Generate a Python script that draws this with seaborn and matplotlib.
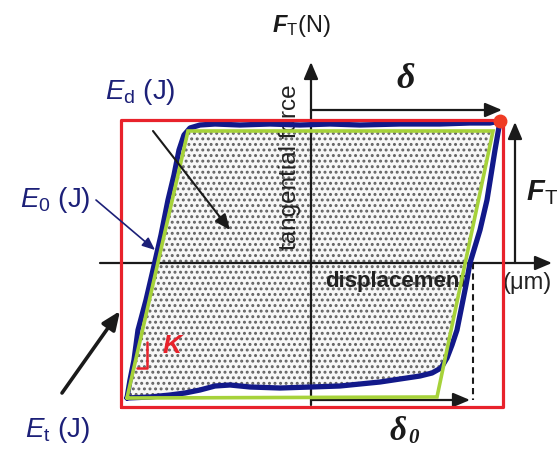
import numpy as np
import pandas as pd
import seaborn as sns
import matplotlib
matplotlib.use("Agg")
import matplotlib.pyplot as plt
from matplotlib.patches import Polygon, FancyArrowPatch

# ---- data (displacement, tangential force), schematic units ----
loop_disp = [-184, -181, -177, -173, -165, -158, -150, -143, -137, -132, -127, -121, -111, -96,
             -71, -41, -11, 19, 49, 89, 129, 159, 179, 189,
             188, 184, 180, 176, 169, 159, 155, 151, 146, 141, 136, 130, 121, 109, 89, 69, 49, 29,
             0, -31, -61, -81, -96, -111, -126, -141, -161, -184]
loop_force = [-135, -117, -97, -67, -37, -7, 28, 63, 88, 113, 128, 135, 138, 139,
              138, 139, 138, 139, 138, 139, 139, 140, 140, 142,
              136, 113, 88, 63, 33, 0, -22, -42, -67, -82, -95, -105, -110, -113, -116, -119, -121, -123,
              -124, -125, -124, -122, -123, -127, -130, -132, -134, -135]
fit_disp = [-184, -123, 182, 126, -184]
fit_force = [-135, 132, 132, -134, -135]
box_disp = [-190, 192]
box_force = [-144, 143]
peak_disp = [189]
peak_force = [142]
delta0_disp = 159      # end of slip amplitude arrow
dashed_disp = 162

sns.set_theme(style="white")
plt.rcParams["font.family"] = ["Liberation Sans", "DejaVu Sans"]
plt.rcParams["mathtext.fontset"] = "custom"
plt.rcParams["mathtext.it"] = "Liberation Sans:italic"
plt.rcParams["mathtext.rm"] = "Liberation Sans"
plt.rcParams["mathtext.bf"] = "Liberation Sans:bold:italic"
plt.rcParams["hatch.linewidth"] = 1.35

NAVY = "#12198a"
TXT_BLUE = "#1c2078"
GREEN = "#a6d23a"
RED = "#e8222b"

fig = plt.figure(figsize=(5.57, 4.5), dpi=100)
ax = fig.add_axes([0, 0, 1, 1])
ax.set_xlim(-311, 246)
ax.set_ylim(-187, 263)
ax.axis("off")

# stippled energy area: fitted parallelogram clipped by the measured loop
stip = Polygon(np.column_stack([fit_disp, fit_force]), closed=True, facecolor="#f7f7f7",
               edgecolor="#626262", lw=0, hatch="...", zorder=1)
ax.add_patch(stip)
clip = Polygon(np.column_stack([loop_disp, loop_force]), closed=True, transform=ax.transData)
stip.set_clip_path(clip)

# axis labels inside the plot
ax.text(-21, 96, "tangential force", rotation=90, ha="center", va="center",
        fontsize=17.5, color="#222222", zorder=2)
ax.text(14, -18, "displacement", ha="left", va="center", fontsize=16,
        fontweight="bold", color="#222222", zorder=2)
ax.text(216, -20, "(μm)", ha="center", va="center", fontsize=17, color="#222222", zorder=2)

def arrow(p0, p1, lw=1.5, color="k", ms=12, z=3):
    ax.add_patch(FancyArrowPatch(p0, p1, arrowstyle="-|>,head_length=0.85,head_width=0.36",
                                 mutation_scale=ms, lw=lw, color=color,
                                 shrinkA=0, shrinkB=0, zorder=z))

# coordinate axes
arrow((0, -142), (0, 201), lw=1.6)
arrow((-211, 0), (241, 0), lw=1.6)
# delta, F_T, delta0
arrow((0, 153), (191, 153), lw=1.6)
arrow((204, 0), (204, 141), lw=1.6)
arrow((0, -137), (delta0_disp, -137), lw=1.6)
ax.plot([dashed_disp, dashed_disp], [0, -137], ls=(0, (3, 2)), color="k", lw=1.5, zorder=3)

# loops
df = pd.DataFrame({"disp": loop_disp, "force": loop_force})
sns.lineplot(data=df, x="disp", y="force", sort=False, estimator=None, color=NAVY,
             lw=3.8, ax=ax, zorder=4, solid_joinstyle="round")
ax.plot(fit_disp, fit_force, color=GREEN, lw=2.6, zorder=5, solid_joinstyle="miter")
ax.plot([box_disp[0], box_disp[1], box_disp[1], box_disp[0], box_disp[0]],
        [box_force[0], box_force[0], box_force[1], box_force[1], box_force[0]],
        color=RED, lw=2.3, zorder=6)
ax.plot(peak_disp, peak_force, "o", ms=9, color="#ef3b24", zorder=7)

# K bracket
ax.plot([-164, -164, -174], [-79, -105, -105], color=RED, lw=1.8, zorder=6)
ax.text(-139, -83, "K", ha="center", va="center", fontsize=19, color=RED,
        fontweight="bold", style="italic", zorder=7)

# annotation arrows
arrow((-158, 132), (-81, 33), lw=1.5, ms=11, z=7)
arrow((-215, 63), (-156, 13), lw=1.2, color=TXT_BLUE, ms=9, z=7)
arrow((-249, -130), (-191, -48), lw=2.6, ms=13, z=7)

# labels
ax.text(-171, 171, r"$E_{\mathrm{d}}$ (J)", ha="center", va="center", fontsize=20, color=TXT_BLUE)
ax.text(-256, 63, r"$E_{\mathrm{0}}$ (J)", ha="center", va="center", fontsize=20, color=TXT_BLUE)
ax.text(-253, -167, r"$E_{\mathrm{t}}$ (J)", ha="center", va="center", fontsize=20, color=TXT_BLUE)
ax.text(-10, 237, r"$\mathbf{F}_{\mathrm{T}}$(N)", ha="center", va="center", fontsize=17, color="k")
ax.text(231, 70, r"$\mathbf{F}_{\mathrm{T}}$", ha="center", va="center", fontsize=21, color="k")
ax.text(95, 184, "δ", ha="center", va="center", fontsize=26, family="Liberation Serif",
        fontweight="bold", style="italic", color="k")
ax.text(87, -169, "δ", ha="center", va="center", fontsize=24, family="Liberation Serif",
        fontweight="bold", style="italic", color="k")
ax.text(103, -175, "0", ha="center", va="center", fontsize=15, family="Liberation Serif",
        fontweight="bold", style="italic", color="k")

fig.savefig("out.png", dpi=100)
